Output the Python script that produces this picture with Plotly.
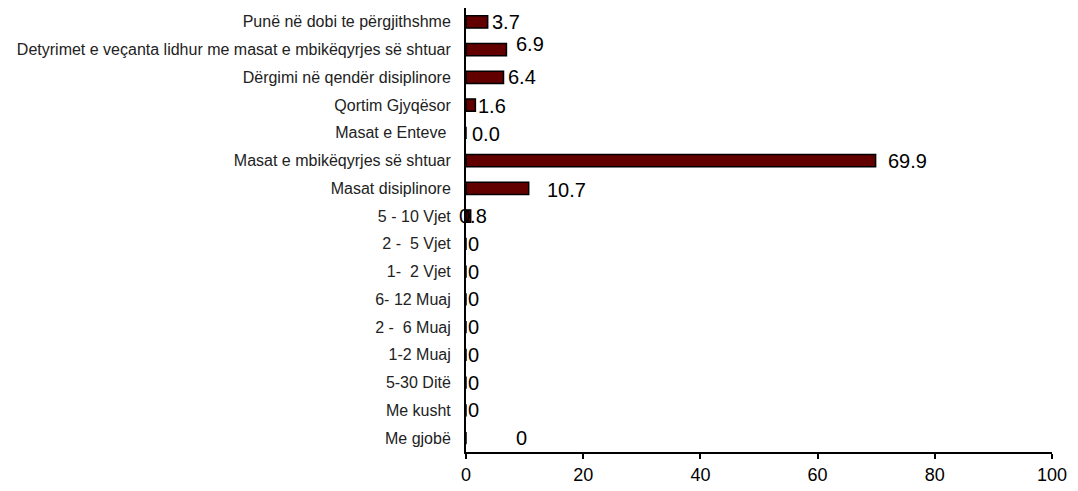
import plotly.graph_objects as go

categories = [
    "Punë në dobi te përgjithshme",
    "Detyrimet e veçanta lidhur me masat e mbikëqyrjes së shtuar",
    "Dërgimi në qendër disiplinore",
    "Qortim Gjyqësor",
    "Masat e Enteve ",
    "Masat e mbikëqyrjes së shtuar",
    "Masat disiplinore",
    "5 - 10 Vjet",
    "2 -  5 Vjet",
    "1-  2 Vjet",
    "6- 12 Muaj",
    "2 -  6 Muaj",
    "1-2 Muaj",
    "5-30 Ditë",
    "Me kusht",
    "Me gjobë",
]
values = [3.7, 6.9, 6.4, 1.6, 0.0, 69.9, 10.7, 0.8, 0, 0, 0, 0, 0, 0, 0, 0]
value_labels = ["3.7", "6.9", "6.4", "1.6", "0.0", "69.9", "10.7", "0.8",
                "0", "0", "0", "0", "0", "0", "0", "0"]
x_ticks = [0, 20, 40, 60, 80, 100]

# label offsets (style only, pixels)
label_xshift = [2, 8, 2, 1, 4, 10, 16, -14, 0, 0, 0, 0, 0, 0, 0, 48]
label_yshift = [0, 6, 0, -1, -1, 0, -2, 0, 0, 0, 0, 0, 0, 0, 0, 0]

fig = go.Figure()
fig.add_trace(go.Bar(
    y=categories, x=values, orientation="h", width=0.45,
    marker=dict(color="#620000", line=dict(color="black", width=1.5)),
    hoverinfo="x+y",
))

for cat, v, lab, dx, dy in zip(categories, values, value_labels, label_xshift, label_yshift):
    fig.add_annotation(
        x=v, y=cat, text=lab, showarrow=False, xanchor="left", yanchor="middle",
        xshift=dx, yshift=dy,
        font=dict(family="Liberation Sans, Arial", size=20, color="black"),
    )

fig.update_layout(
    width=1070, height=483,
    margin=dict(l=458, r=26, t=0, b=39, autoexpand=False),
    paper_bgcolor="white", plot_bgcolor="white",
    showlegend=False,
)
fig.update_xaxes(
    range=[0, 100], tickvals=x_ticks, ticktext=[str(t) for t in x_ticks],
    showgrid=False, zeroline=False, showline=True, linecolor="black", linewidth=2,
    ticks="outside", ticklen=5, tickwidth=1.5, tickcolor="black",
    tickfont=dict(family="Liberation Sans, Arial", size=18, color="black"),
    automargin=False,
)
fig.update_yaxes(
    categoryorder="array", categoryarray=list(reversed(categories)),
    showgrid=False, zeroline=False, showline=True, linecolor="black", linewidth=2,
    ticks="", ticklabelstandoff=10, automargin=False,
    tickfont=dict(family="Liberation Sans, Arial", size=16, color="#222"),
)

fig.write_html("out.html")
